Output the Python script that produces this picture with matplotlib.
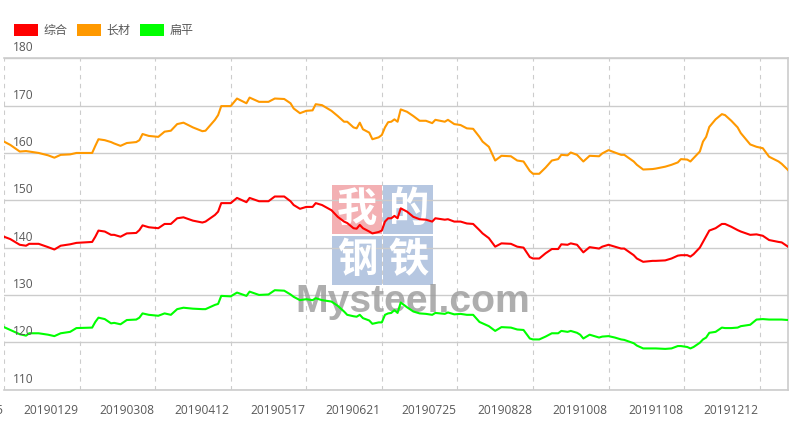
import matplotlib
matplotlib.use('Agg')
import matplotlib.pyplot as plt
from matplotlib.patches import Patch, Rectangle

plt.rcParams['font.family'] = ['Open Sans', 'Noto Sans CJK SC', 'DejaVu Sans']

# ---------------- data ----------------
series_names = ['综合', '长材', '扁平']
series_colors = ['#ff0000', '#ff9900', '#00ff00']

# x positions (trading-day index, 0 = 20181225)
day_idx = [0, 2, 5, 7, 8, 11, 14, 16, 18, 21, 23, 28, 29, 30, 32, 34, 35, 37, 39, 42, 43, 44, 46, 49, 51, 53, 55, 57,
           60, 63, 64, 67, 68, 69, 72, 74, 77, 78,
           81, 84, 86, 89, 91, 92, 94, 96, 98, 99, 101, 104, 106, 108, 109, 111, 112, 113, 114, 116, 117, 119, 120,
           121, 122, 123, 124, 125, 126, 128, 130, 132, 134, 136, 137, 140, 141, 143, 145, 147, 149, 151, 152, 154,
           156, 158, 161, 163, 165,
           167, 168, 170, 172, 174, 176, 177, 179, 180, 182, 183, 184, 186, 189, 190, 192, 194, 196, 197, 200, 201,
           203, 206, 207, 210, 212, 214, 215, 217, 218, 219, 221, 222, 223, 224, 226, 228, 229, 231, 233, 234, 237,
           239, 241, 243, 246, 247, 249]

composite = [142.3, 141.8, 140.6, 140.4, 140.8, 140.8, 140.1, 139.6, 140.4, 140.7, 141.0, 141.2, 142.3, 143.6, 143.4,
             142.7, 142.7, 142.3, 143.0, 143.1, 143.7, 144.7, 144.3, 144.1, 145.0, 145.0, 146.2, 146.4, 145.7, 145.3,
             145.5, 146.9, 147.6, 149.4, 149.4, 150.5, 149.6, 150.5,
             149.8, 149.8, 150.8, 150.8, 149.8, 149.0, 148.2, 148.6, 148.6, 149.4, 149.0, 147.9, 146.5, 145.5, 145.2,
             144.1, 144.0, 144.8, 144.1, 143.4, 143.0, 143.3, 143.6, 145.5, 146.2, 146.2, 146.7, 146.2, 148.3, 147.6,
             146.5, 146.0, 145.9, 145.5, 146.2, 145.9, 146.0, 145.5, 145.5, 145.1, 145.0, 143.7, 143.0, 142.0, 140.2,
             140.9, 140.8, 140.2, 140.0,
             138.0, 137.7, 137.7, 138.8, 139.7, 139.7, 140.7, 140.6, 140.9, 140.6, 139.8, 139.0, 140.1, 139.8, 140.2,
             140.6, 140.2, 139.8, 139.8, 138.4, 137.7, 137.0, 137.2, 137.2, 137.3, 137.7, 138.3, 138.4, 138.4, 138.1,
             138.6, 140.0, 141.2, 142.4, 143.6, 144.1, 145.0, 145.0, 144.4, 143.7, 143.4, 142.7, 142.8, 142.5, 141.6,
             141.2, 141.1, 140.2]

long_steel = [162.4, 161.7, 160.3, 160.4, 160.3, 160.0, 159.5, 159.0, 159.6, 159.7, 160.0, 160.0, 161.5, 162.9, 162.7,
              162.3, 162.0, 161.5, 162.1, 162.3, 162.7, 164.0, 163.6, 163.4, 164.5, 164.7, 166.1, 166.4, 165.4, 164.6,
              164.7, 167.0, 168.0, 169.9, 169.9, 171.5, 170.5, 171.7,
              170.8, 170.8, 171.5, 171.4, 170.5, 169.4, 168.4, 168.9, 169.0, 170.3, 170.1, 168.9, 167.8, 166.6, 166.6,
              165.4, 165.2, 166.4, 165.0, 164.3, 162.9, 163.3, 163.8, 165.4, 166.5, 166.6, 167.1, 166.6, 169.2, 168.7,
              167.8, 166.8, 166.8, 166.3, 167.0, 166.6, 167.0, 166.1, 165.9, 165.2, 165.1, 163.4, 162.4, 161.3, 158.4,
              159.4, 159.3, 158.4, 158.2,
              156.2, 155.6, 155.6, 156.9, 158.4, 158.7, 159.6, 159.5, 160.1, 159.6, 158.9, 158.2, 159.4, 159.3, 159.9,
              160.6, 160.1, 159.6, 159.6, 158.2, 157.5, 156.5, 156.6, 156.7, 157.1, 157.5, 158.0, 158.7, 158.6, 158.2,
              158.9, 160.3, 162.4, 163.4, 165.5, 167.1, 168.2, 168.0, 166.8, 165.4, 164.2, 161.8, 161.3, 161.0, 159.2,
              158.2, 157.7, 156.4]

flat_steel = [123.2, 122.6, 121.7, 121.4, 121.9, 121.9, 121.6, 121.3, 121.9, 122.2, 123.0, 123.1, 124.3, 125.2, 124.9,
              124.0, 124.1, 123.8, 124.7, 124.8, 125.2, 126.1, 125.8, 125.6, 126.1, 125.8, 127.0, 127.3, 127.1, 127.0,
              127.0, 127.9, 128.1, 129.8, 129.7, 130.5, 129.8, 130.7,
              130.0, 130.1, 131.0, 130.9, 130.1, 129.6, 128.9, 129.1, 128.9, 129.3, 128.9, 128.6, 127.7, 126.5, 125.8,
              125.5, 125.4, 125.8, 125.1, 124.6, 123.9, 124.2, 124.2, 125.8, 126.1, 126.2, 126.8, 126.2, 128.4, 127.4,
              126.5, 126.1, 126.0, 125.8, 126.2, 126.0, 126.3, 125.9, 126.0, 125.8, 125.8, 124.3, 124.0, 123.4, 122.4,
              123.2, 123.1, 122.7, 122.6,
              120.8, 120.6, 120.6, 121.2, 121.9, 121.9, 122.4, 122.2, 122.4, 122.0, 121.6, 120.8, 121.6, 121.0, 121.2,
              121.3, 121.0, 120.6, 120.5, 119.8, 119.3, 118.7, 118.7, 118.7, 118.6, 118.7, 119.2, 119.2, 119.0, 118.7,
              119.0, 119.9, 120.6, 121.0, 122.0, 122.2, 123.1, 123.0, 123.0, 123.1, 123.4, 123.7, 124.8, 124.9, 124.8,
              124.8, 124.8, 124.7]

x_labels = ['20181225', '20190129', '20190308', '20190412', '20190517', '20190621',
            '20190725', '20190828', '20191008', '20191108', '20191212']
x_label_idx = [0, 24, 48, 72, 96, 120, 144, 168, 192, 216, 240]
y_ticks = [110, 120, 130, 140, 150, 160, 170, 180]
n_days = 250

# ---------------- figure ----------------
W, H = 800, 423
fig = plt.figure(figsize=(W / 100, H / 100), dpi=100)
fig.patch.set_facecolor('white')
ax_l, ax_r, ax_t, ax_b = 4, 788, 58.3, 389.6
ax = fig.add_axes([ax_l / W, 1 - ax_b / H, (ax_r - ax_l) / W, (ax_b - ax_t) / H])

text_color = '#595959'
grid_color = '#cccccc'
fs = 8.64  # 12 px

# watermark (behind lines)
def fig_rect(x0, y0, x1, y1, color):
    r = Rectangle((x0 / W, 1 - y1 / H), (x1 - x0) / W, (y1 - y0) / H, transform=fig.transFigure,
                  facecolor=color, edgecolor='none', alpha=0.85, zorder=0.5, clip_on=False)
    ax.add_patch(r)

boxes = [('我', 331.7, 185, 381.7, 234.3, '#f2a3a6'),
         ('的', 383.3, 185, 433.3, 234.3, '#a9bddc'),
         ('钢', 331.7, 236, 381.7, 285, '#a9bddc'),
         ('铁', 383.3, 236, 433.3, 285, '#a9bddc')]
for ch, x0, y0, x1, y1, c in boxes:
    fig_rect(x0, y0, x1, y1, c)
    ax.text((x0 + x1) / 2 / W, 1 - (y0 + y1) / 2 / H, ch, transform=fig.transFigure, ha='center', va='center',
            fontsize=29, color='white', family=['Noto Sans CJK SC'], weight='bold', zorder=0.6, clip_on=False)

wm = ax.text(295 / W, 1 - 312 / H, 'Mysteel.com', transform=fig.transFigure, ha='left', va='baseline',
             fontsize=34, color='#9a9a9a', alpha=0.8, weight='bold',
             family=['Liberation Sans Narrow', 'Liberation Sans', 'DejaVu Sans'], zorder=0.55, clip_on=False)
fig.canvas.draw()
bb = wm.get_window_extent()
wm.set_fontsize(34 * 235 / bb.width)

# lines
for name, vals, col in zip(series_names, [composite, long_steel, flat_steel], series_colors):
    ax.plot(day_idx, vals, color=col, lw=1.5, solid_joinstyle='round', label=name, zorder=3)

ax.set_xlim(0, n_days - 1)
ax.set_ylim(y_ticks[0], y_ticks[-1])
ax.set_yticks(y_ticks)
ax.set_xticks(x_label_idx)
ax.tick_params(length=0, labelleft=False, labelbottom=False)
ax.grid(axis='y', color=grid_color, lw=1.0, zorder=1)
ax.grid(axis='x', color=grid_color, lw=0.8, ls=(0, (4, 4)), zorder=1)
ax.set_axisbelow(True)
for s in ['top', 'right', 'bottom']:
    ax.spines[s].set_color(grid_color)
    ax.spines[s].set_linewidth(1.2)
ax.spines['left'].set_visible(False)
ax.patch.set_alpha(0)

for v in y_ticks:
    ax.annotate(str(v), xy=(0, v), xycoords=('axes fraction', 'data'), xytext=(6.3, 5.0),
                textcoords='offset points', ha='left', va='baseline', fontsize=fs, color=text_color,
                annotation_clip=False)

for i, lab in zip(x_label_idx, x_labels):
    ax.annotate(lab, xy=(i, 0), xycoords=('data', 'axes fraction'), xytext=(-0.7, -17.3),
                textcoords='offset points', ha='right', va='baseline', fontsize=fs, color=text_color,
                annotation_clip=False)

handles = [Patch(facecolor=c, edgecolor='none', label=n) for n, c in zip(series_names, series_colors)]
fig.legend(handles=handles, loc='center left', bbox_to_anchor=(14 / W, 1 - 30.3 / H), ncol=3, frameon=False,
           fontsize=fs, handlelength=2.0, handleheight=1.17, handletextpad=0.42, columnspacing=0.85,
           borderpad=0, borderaxespad=0, labelcolor=text_color)

fig.savefig('out.png', dpi=100)
